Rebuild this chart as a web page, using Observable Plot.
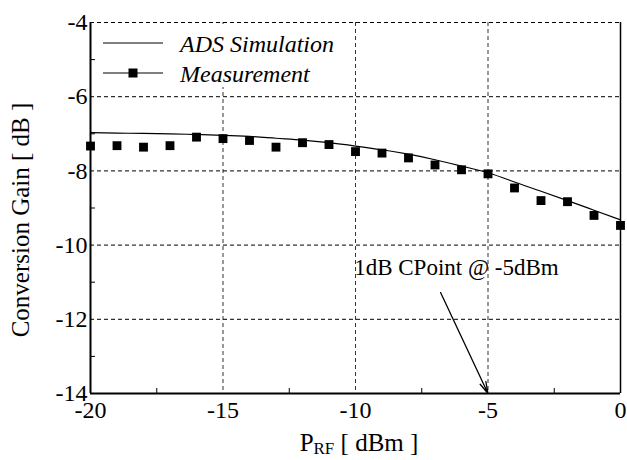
<!DOCTYPE html>
<html><head><meta charset="utf-8">
<script src="https://cdn.jsdelivr.net/npm/d3@7"></script>
<script src="https://cdn.jsdelivr.net/npm/@observablehq/plot@0.6"></script>
<style>
body{margin:0;background:#fff;}
#wrap{position:relative;width:627px;height:460px;font-family:"Liberation Serif","Times New Roman",Times,serif;}
#legend{position:absolute;left:97px;top:24px;width:245px;height:63px;background:#fff;}
#legend svg{display:block;}
</style></head><body>
<div id="wrap"><div id="chart"></div><div id="legend"></div></div>
<script>
// ---- data ----
const measPin = [-20,-19,-18,-17,-16,-15,-14,-13,-12,-11,-10,-9,-8,-7,-6,-5,-4,-3,-2,-1,0];
const measGain = [-7.33,-7.32,-7.36,-7.32,-7.09,-7.13,-7.18,-7.36,-7.24,-7.29,-7.48,-7.52,-7.65,-7.84,-7.97,-8.08,-8.46,-8.80,-8.83,-9.20,-9.47];
const simPin = [-20,-19,-18,-17,-16,-15,-14,-13,-12,-11,-10,-9,-8,-7,-6,-5,-4,-3,-2,-1,0];
const simGain = [-6.97,-6.98,-6.99,-7.00,-7.02,-7.04,-7.07,-7.12,-7.17,-7.24,-7.33,-7.43,-7.55,-7.70,-7.87,-8.05,-8.30,-8.55,-8.80,-9.06,-9.32];
const xTicks = [-20,-15,-10,-5,0];
const xMinor = [-17.5,-12.5,-7.5,-2.5];
const yTicks = [-14,-12,-10,-8,-6,-4];
const yMinor = [-13,-11,-9,-7,-5];
const xGrid = [-15,-10,-5];
const yGrid = [-12,-10,-8,-6,-4];
const seriesNames = ["ADS Simulation","Measurement"];
const annotation = [{x1:-6.79, y1:-11.28, x2:-5, y2:-14, tx:-6.19, ty:-10.6, label:"1dB CPoint @ -5dBm"}];

const meas = measPin.map((x,i)=>({x, y: measGain[i]}));
const sim = simPin.map((x,i)=>({x, y: simGain[i]}));

const FONT = '"Liberation Serif","Times New Roman",Times,serif';
const W = 627, H = 460, ML = 90, MR = 7, MT = 22, MB = 67;
const PW = W-ML-MR, PH = H-MT-MB;

const chart = Plot.plot({
  width: W, height: H,
  marginLeft: ML, marginRight: MR, marginTop: MT, marginBottom: MB,
  style: {fontFamily: FONT, fontSize: "24px", color: "#000", background: "#fff", overflow: "visible"},
  x: {domain: [-20, 0]},
  y: {domain: [-14, -4]},
  marks: [
    Plot.ruleX(xGrid, {stroke: "#333", strokeWidth: 1, strokeDasharray: "4,3"}),
    Plot.ruleY(yGrid, {stroke: "#000", strokeWidth: 1, strokeDasharray: "4,3"}),
    Plot.ruleX(xMinor, {y1: -4, y2: -14, insetTop: PH-5, stroke: "#000"}),
    Plot.ruleY(yMinor, {x1: -20, x2: 0, insetRight: PW-5, stroke: "#000"}),
    Plot.ruleX([0], {stroke: "#000", strokeWidth: 1.5}),
    Plot.ruleX([-20], {stroke: "#000", strokeWidth: 2}),
    Plot.ruleY([-14], {stroke: "#000", strokeWidth: 2}),
    Plot.axisX({ticks: xTicks, tickSize: 0, tickPadding: 7, tickFormat: d => `${d}`, label: null, fontSize: 24, fontFamily: FONT}),
    Plot.axisY({ticks: yTicks, tickSize: 0, tickPadding: 3, tickFormat: d => `${d}`, label: null, fontSize: 24, fontFamily: FONT}),
    Plot.text(["Conversion Gain [ dB ]"], {frameAnchor: "left", textAnchor: "middle", dx: -70, dy: 12, rotate: -90, fontSize: 25, fill: "#000", fontFamily: FONT}),
    Plot.line(sim, {x: "x", y: "y", curve: "natural", stroke: "#000", strokeWidth: 1.2}),
    Plot.dot(meas, {x: "x", y: "y", symbol: "square", r: 5, fill: "#000", stroke: "none"}),
    Plot.arrow(annotation, {x1: "x1", y1: "y1", x2: "x2", y2: "y2", stroke: "#000", strokeWidth: 1.3, headLength: 14, headAngle: 30, bend: 0}),
    Plot.text(annotation, {x: "tx", y: "ty", text: "label", fontSize: 23, fill: "#000", fontFamily: FONT})
  ]
});
document.getElementById("chart").appendChild(chart);

// x-axis label with subscript
const svg = d3.select(chart);
const xl = svg.append("text")
  .attr("x", 359).attr("y", 451)
  .attr("text-anchor", "middle")
  .attr("font-family", FONT)
  .attr("font-size", 25).attr("fill", "#000");
xl.append("tspan").text("P");
xl.append("tspan").attr("font-size", 17).attr("dy", 3).text("RF");
xl.append("tspan").attr("dy", -3).text(" [ dBm ]");

// legend
const lg = d3.select("#legend").append("svg").attr("width", 245).attr("height", 63);
const rows = [{y: 19, sym: false}, {y: 49, sym: true}];
rows.forEach((r, i) => {
  lg.append("line").attr("x1", 6).attr("x2", 66).attr("y1", r.y).attr("y2", r.y).attr("stroke", "#000").attr("stroke-width", 1.2);
  if (r.sym) lg.append("rect").attr("x", 36-4.5).attr("y", r.y-4.5).attr("width", 9).attr("height", 9).attr("fill", "#000");
  lg.append("text").attr("x", 83).attr("y", r.y + 8.5)
    .attr("font-family", FONT).attr("font-style", "italic")
    .attr("font-size", 24).attr("fill", "#000").text(seriesNames[i]);
});
</script>
</body></html>
